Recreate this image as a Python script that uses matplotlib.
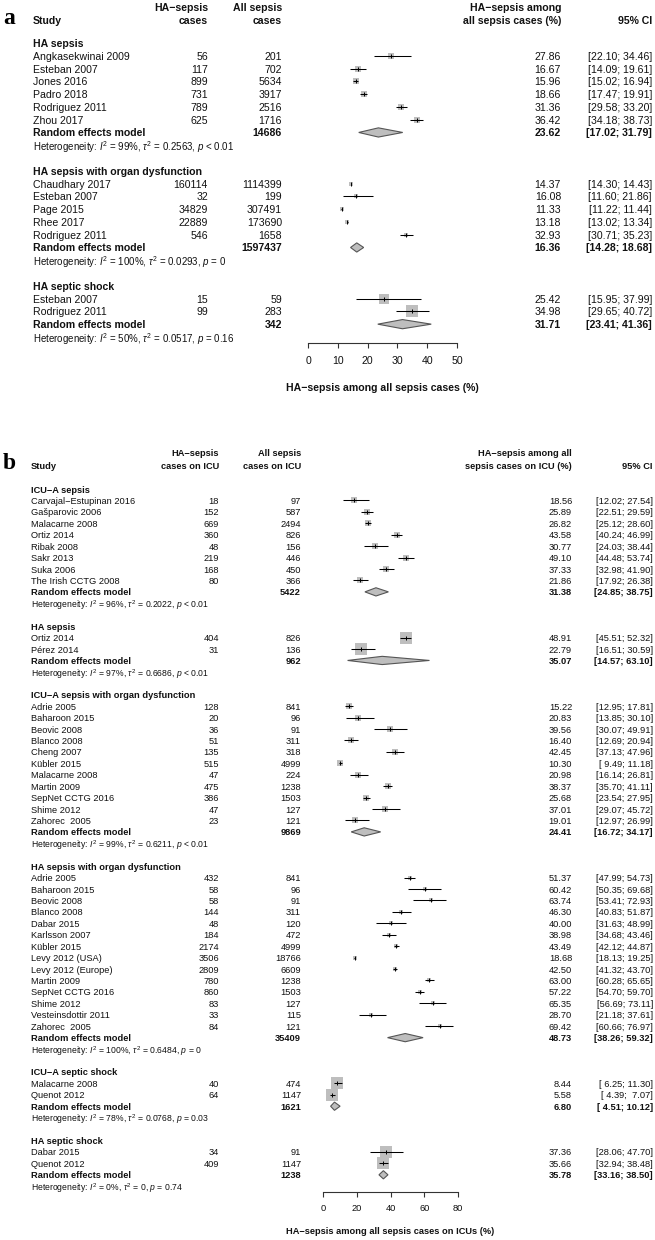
import matplotlib
matplotlib.use("Agg")
import matplotlib.pyplot as plt
from matplotlib.transforms import blended_transform_factory

plt.rcParams['font.family'] = ['Liberation Sans', 'DejaVu Sans']
plt.rcParams['mathtext.fontset'] = 'custom'
plt.rcParams['mathtext.rm'] = 'Liberation Sans'
plt.rcParams['mathtext.it'] = 'Liberation Sans:italic'
plt.rcParams['mathtext.bf'] = 'Liberation Sans:bold'

# ---------------- Panel a data ----------------
a_groups = ["HA sepsis", "HA sepsis with organ dysfunction", "HA septic shock"]
a_studies = [
    ["Angkasekwinai 2009", "Esteban 2007", "Jones 2016", "Padro 2018", "Rodriguez 2011", "Zhou 2017"],
    ["Chaudhary 2017", "Esteban 2007", "Page 2015", "Rhee 2017", "Rodriguez 2011"],
    ["Esteban 2007", "Rodriguez 2011"],
]
a_events = [[56, 117, 899, 731, 789, 625], [160114, 32, 34829, 22889, 546], [15, 99]]
a_totals = [[201, 702, 5634, 3917, 2516, 1716], [1114399, 199, 307491, 173690, 1658], [59, 283]]
a_est = [[27.86, 16.67, 15.96, 18.66, 31.36, 36.42], [14.37, 16.08, 11.33, 13.18, 32.93], [25.42, 34.98]]
a_lo = [[22.10, 14.09, 15.02, 17.47, 29.58, 34.18], [14.30, 11.60, 11.22, 13.02, 30.71], [15.95, 29.65]]
a_hi = [[34.46, 19.61, 16.94, 19.91, 33.20, 38.73], [14.43, 21.86, 11.44, 13.34, 35.23], [37.99, 40.72]]
a_weight = [[16.5, 16.6, 16.8, 16.8, 16.7, 16.6], [9.0, 6.0, 9.0, 9.0, 8.5], [38.0, 62.0]]
a_re_total = [14686, 1597437, 342]
a_re_est = [23.62, 16.36, 31.71]
a_re_lo = [17.02, 14.28, 23.41]
a_re_hi = [31.79, 18.68, 41.36]
a_i2 = ["99%", "100%", "50%"]
a_tau2 = ["0.2563", "0.0293", "0.0517"]
a_p = ["< 0.01", "= 0", "= 0.16"]
a_ticks = [0, 10, 20, 30, 40, 50]
a_headers = [("HA\u2212sepsis", "cases"), ("All sepsis", "cases"),
             ("HA\u2212sepsis among", "all sepsis cases (%)"), ("", "95% CI")]
a_xlabel = "HA\u2212sepsis among all sepsis cases (%)"

# ---------------- Panel b data ----------------
b_groups = ["ICU\u2212A sepsis", "HA sepsis", "ICU\u2212A sepsis with organ dysfunction",
            "HA sepsis with organ dysfunction", "ICU\u2212A septic shock", "HA septic shock"]
b_studies = [
    ["Carvajal\u2212Estupinan 2016", "Ga\u0161parovic 2006", "Malacarne 2008", "Ortiz 2014",
     "Ribak 2008", "Sakr 2013", "Suka 2006", "The Irish CCTG 2008"],
    ["Ortiz 2014", "P\u00e9rez 2014"],
    ["Adrie 2005", "Baharoon 2015", "Beovic 2008", "Blanco 2008", "Cheng 2007", "K\u00fcbler 2015",
     "Malacarne 2008", "Martin 2009", "SepNet CCTG 2016", "Shime 2012", "Zahorec  2005"],
    ["Adrie 2005", "Baharoon 2015", "Beovic 2008", "Blanco 2008", "Dabar 2015", "Karlsson 2007",
     "K\u00fcbler 2015", "Levy 2012 (USA)", "Levy 2012 (Europe)", "Martin 2009", "SepNet CCTG 2016",
     "Shime 2012", "Vesteinsdottir 2011", "Zahorec  2005"],
    ["Malacarne 2008", "Quenot 2012"],
    ["Dabar 2015", "Quenot 2012"],
]
b_events = [[18, 152, 669, 360, 48, 219, 168, 80], [404, 31],
            [128, 20, 36, 51, 135, 515, 47, 475, 386, 47, 23],
            [432, 58, 58, 144, 48, 184, 2174, 3506, 2809, 780, 860, 83, 33, 84],
            [40, 64], [34, 409]]
b_totals = [[97, 587, 2494, 826, 156, 446, 450, 366], [826, 136],
            [841, 96, 91, 311, 318, 4999, 224, 1238, 1503, 127, 121],
            [841, 96, 91, 311, 120, 472, 4999, 18766, 6609, 1238, 1503, 127, 115, 121],
            [474, 1147], [91, 1147]]
b_est = [[18.56, 25.89, 26.82, 43.58, 30.77, 49.10, 37.33, 21.86], [48.91, 22.79],
         [15.22, 20.83, 39.56, 16.40, 42.45, 10.30, 20.98, 38.37, 25.68, 37.01, 19.01],
         [51.37, 60.42, 63.74, 46.30, 40.00, 38.98, 43.49, 18.68, 42.50, 63.00, 57.22, 65.35, 28.70, 69.42],
         [8.44, 5.58], [37.36, 35.66]]
b_lo = [[12.02, 22.51, 25.12, 40.24, 24.03, 44.48, 32.98, 17.92], [45.51, 16.51],
        [12.95, 13.85, 30.07, 12.69, 37.13, 9.49, 16.14, 35.70, 23.54, 29.07, 12.97],
        [47.99, 50.35, 53.41, 40.83, 31.63, 34.68, 42.12, 18.13, 41.32, 60.28, 54.70, 56.69, 21.18, 60.66],
        [6.25, 4.39], [28.06, 32.94]]
b_hi = [[27.54, 29.59, 28.60, 46.99, 38.44, 53.74, 41.90, 26.38], [52.32, 30.59],
        [17.81, 30.10, 49.91, 20.94, 47.96, 11.18, 26.81, 41.11, 27.95, 45.72, 26.99],
        [54.73, 69.68, 72.93, 51.87, 48.99, 43.46, 44.87, 19.25, 43.70, 65.65, 59.70, 73.11, 37.61, 76.97],
        [11.30, 7.07], [47.70, 38.48]]
b_weight = [[12.4, 12.5, 12.6, 12.5, 12.4, 12.5, 12.5, 12.5], [50.2, 49.8],
            [9.1] * 11, [7.1] * 14, [50.0, 50.0], [48.0, 52.0]]
b_re_total = [5422, 962, 9869, 35409, 1621, 1238]
b_re_est = [31.38, 35.07, 24.41, 48.73, 6.80, 35.78]
b_re_lo = [24.85, 14.57, 16.72, 38.26, 4.51, 33.16]
b_re_hi = [38.75, 63.10, 34.17, 59.32, 10.12, 38.50]
b_i2 = ["96%", "97%", "99%", "100%", "78%", "0%"]
b_tau2 = ["0.2022", "0.6686", "0.6211", "0.6484", "0.0768", "0"]
b_p = ["< 0.01", "< 0.01", "< 0.01", "= 0", "= 0.03", "= 0.74"]
b_ticks = [0, 20, 40, 60, 80]
b_headers = [("HA\u2212sepsis", "cases on ICU"), ("All sepsis", "cases on ICU"),
             ("HA\u2212sepsis among all", "sepsis cases on ICU (%)"), ("", "95% CI")]
b_xlabel = "HA\u2212sepsis among all sepsis cases on ICUs (%)"

W, H = 655, 1240
fig = plt.figure(figsize=(W / 100, H / 100), dpi=100)
TXT = '#111111'
SQ = '#BEBEBE'


def fmt_ci(lo, hi):
    return "[" + f"{lo:5.2f}" + "; " + f"{hi:5.2f}" + "]"


def draw_panel(L, groups, studies, events, totals, est, lo, hi, wts, re_total, re_est,
               re_lo, re_hi, i2, tau2, pv, ticks, headers, xlabel, letter):
    top, bot = L['top'], L['bot']
    ax = fig.add_axes([0, 1 - bot / H, 1, (bot - top) / H])
    v0, v1 = ticks[0], ticks[-1]
    px0, px1 = L['axis_px']
    sc = (v1 - v0) / (px1 - px0)
    ax.set_xlim(v0 + (0 - px0) * sc, v0 + (W - px0) * sc)
    r0, dy = L['row0'], L['dy']

    def R(px):
        return (px - r0) / dy

    ax.set_ylim(R(bot), R(top))
    ax.patch.set_visible(False)
    tr = blended_transform_factory(fig.transFigure, ax.transData)
    fs, fsh = L['fs'], L['fsh']
    xn, xe, xt, xest, xci = [p / W for p in L['cols']]

    def T(x, r, s, ha='left', bold=False, size=None):
        ax.text(x, r, s, transform=tr, ha=ha, va='center_baseline', color=TXT,
                fontsize=size or fs, fontweight='bold' if bold else 'normal')

    # headers
    rh1, rh2 = R(L['head'][0]), R(L['head'][1])
    T(xn, rh2, "Study", bold=True)
    for (l1, l2), xc in zip(headers, [xe, xt, xest, xci]):
        if l1:
            T(xc, rh1, l1, ha='right', bold=True)
        T(xc, rh2, l2, ha='right', bold=True)
    fig.text(L['letter'][0] / W, 1 - L['letter'][1] / H, letter, fontsize=17,
             fontweight='bold', family=['Liberation Serif', 'DejaVu Serif'],
             ha='left', va='baseline', color='black')

    k = L['sqk']
    r = 0
    for g in range(len(groups)):
        T(xn, r, groups[g], bold=True)
        r += 1
        for j in range(len(studies[g])):
            T(xn, r, studies[g][j])
            T(xe, r, str(events[g][j]), ha='right')
            T(xt, r, str(totals[g][j]), ha='right')
            T(xest, r, f"{est[g][j]:.2f}", ha='right')
            T(xci, r, fmt_ci(lo[g][j], hi[g][j]), ha='right')
            side = k * wts[g][j] ** 0.5
            ax.scatter([est[g][j]], [r], marker='s', s=(side * 0.72) ** 2, color=SQ,
                       linewidths=0, zorder=2)
            ax.hlines(r, lo[g][j], hi[g][j], color='black', lw=0.75, zorder=3)
            ax.scatter([est[g][j]], [r], marker='|', s=(3.2 * 0.72) ** 2, color='black',
                       linewidths=0.7, zorder=4)
            r += 1
        T(xn, r, "Random effects model", bold=True)
        T(xt, r, str(re_total[g]), ha='right', bold=True)
        T(xest, r, f"{re_est[g]:.2f}", ha='right', bold=True)
        T(xci, r, fmt_ci(re_lo[g], re_hi[g]), ha='right', bold=True)
        hh = L['dh']
        ax.fill([re_lo[g], re_est[g], re_hi[g], re_est[g]], [r, r - hh, r, r + hh],
                facecolor=SQ, edgecolor='#555555', lw=0.8, zorder=3)
        r += 1
        het = (r"Heterogeneity: $I^2$ = " + i2[g] + r", $\tau^2$ = " + tau2[g]
               + r", $p$ " + pv[g])
        T(xn, r, het, size=fsh)
        r += 2

    # x axis
    for s in ['top', 'left', 'right']:
        ax.spines[s].set_visible(False)
    sp = ax.spines['bottom']
    sp.set_position(('data', R(L['axis_y'])))
    sp.set_bounds(v0, v1)
    sp.set_color('#333333')
    sp.set_linewidth(0.8)
    ax.set_xticks(ticks)
    ax.set_xticklabels([str(t) for t in ticks])
    ax.tick_params(axis='x', direction='out', length=3.4, width=0.8, color='#333333',
                   pad=L['pad'], labelsize=fs, labelcolor=TXT)
    ax.set_yticks([])
    ax.text((v0 + v1) / 2, R(L['xlab_y']), xlabel, ha='center', va='center_baseline',
            fontsize=fs, fontweight='bold', color=TXT)


LA = dict(top=0, bot=420, row0=43, dy=12.78, axis_px=(308, 457), axis_y=343, xlab_y=387,
          head=(7, 20), cols=(33, 208, 282, 561, 652), fs=7.6, fsh=7.0, dh=0.36,
          sqk=1.55, pad=6.0, letter=(3, 24))
LB = dict(top=420, bot=1240, row0=489, dy=11.43, axis_px=(323, 458), axis_y=1192, xlab_y=1230,
          head=(452, 465), cols=(31, 219, 301, 572, 653), fs=6.7, fsh=6.2, dh=0.36,
          sqk=1.77, pad=5.5, letter=(3, 469))

draw_panel(LA, a_groups, a_studies, a_events, a_totals, a_est, a_lo, a_hi, a_weight,
           a_re_total, a_re_est, a_re_lo, a_re_hi, a_i2, a_tau2, a_p, a_ticks,
           a_headers, a_xlabel, "a")
draw_panel(LB, b_groups, b_studies, b_events, b_totals, b_est, b_lo, b_hi, b_weight,
           b_re_total, b_re_est, b_re_lo, b_re_hi, b_i2, b_tau2, b_p, b_ticks,
           b_headers, b_xlabel, "b")

fig.savefig("out.png", dpi=100, facecolor='white')
